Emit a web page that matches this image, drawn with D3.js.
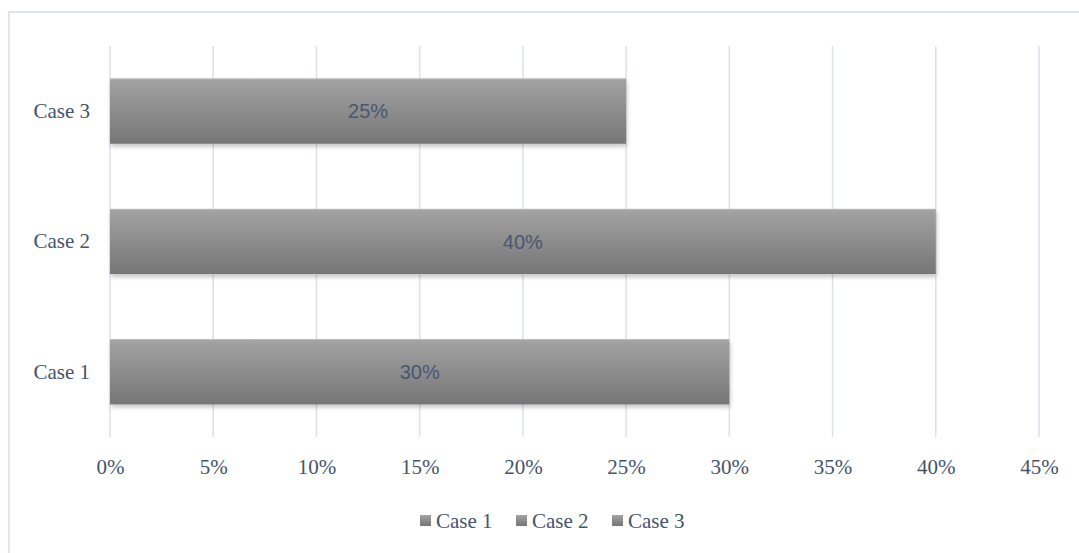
<!DOCTYPE html>
<html><head><meta charset="utf-8">
<script src="https://cdn.jsdelivr.net/npm/d3@7"></script>
<style>body{margin:0;background:#fff;} svg{display:block;}</style>
</head><body>
<svg id="c" width="1079" height="553"></svg>
<script>
const categories = ["Case 1", "Case 2", "Case 3"];
const values = [0.30, 0.40, 0.25];
const tickValues = [0, 0.05, 0.10, 0.15, 0.20, 0.25, 0.30, 0.35, 0.40, 0.45];
const legendLabels = ["Case 1", "Case 2", "Case 3"];

const svg = d3.select("#c");
const W = 1079, H = 553;
const m = {left: 110, right: 1079 - 1039, top: 46, bottom: 553 - 437};
const textColor = "#44546a";
const serif = "'Liberation Serif','Times New Roman',serif";

const defs = svg.append("defs");
const grad = defs.append("linearGradient").attr("id", "barGrad").attr("x1", 0).attr("y1", 0).attr("x2", 0).attr("y2", 1);
grad.append("stop").attr("offset", "0%").attr("stop-color", "#a3a3a3");
grad.append("stop").attr("offset", "100%").attr("stop-color", "#767676");
const f = defs.append("filter").attr("id", "shadow").attr("x", "-5%").attr("y", "-20%").attr("width", "110%").attr("height", "150%");
f.append("feDropShadow").attr("dx", 1).attr("dy", 3).attr("stdDeviation", 2).attr("flood-color", "#000").attr("flood-opacity", 0.22);

// frame
svg.append("rect").attr("x", 9).attr("y", 12).attr("width", W).attr("height", H)
  .attr("fill", "none").attr("stroke", "#dfe3eb").attr("stroke-width", 2);

const x = d3.scaleLinear().domain([0, 0.45]).range([m.left, W - m.right]);
const y = d3.scaleBand().domain(categories.slice().reverse()).range([m.top, H - m.bottom]).paddingInner(0.5).paddingOuter(0.25);

// gridlines
svg.append("g").selectAll("line").data(tickValues).join("line")
  .attr("x1", d => x(d)).attr("x2", d => x(d))
  .attr("y1", m.top).attr("y2", H - m.bottom)
  .attr("stroke", "#dde1ea").attr("stroke-width", 1.5);

// x axis labels
const xAxis = d3.axisBottom(x).tickValues(tickValues).tickFormat(d3.format(".0%")).tickSize(0).tickPadding(0);
const gx = svg.append("g").attr("transform", `translate(0,${H - m.bottom})`).call(xAxis);
gx.select(".domain").remove();
gx.selectAll("text").attr("font-family", serif).attr("font-size", 21).attr("fill", textColor)
  .attr("dy", null).attr("y", 37);

// y axis labels
const yAxis = d3.axisLeft(y).tickSize(0).tickPadding(20);
const gy = svg.append("g").attr("transform", `translate(${m.left},0)`).call(yAxis);
gy.select(".domain").remove();
gy.selectAll("text").attr("font-family", serif).attr("font-size", 21).attr("fill", textColor);

// bars
svg.append("g").selectAll("rect").data(categories).join("rect")
  .attr("x", x(0)).attr("y", (d) => y(d))
  .attr("width", (d, i) => x(values[i]) - x(0))
  .attr("height", y.bandwidth())
  .attr("fill", "url(#barGrad)").attr("filter", "url(#shadow)");
svg.append("g").selectAll("line").data(categories).join("line")
  .attr("x1", x(0)).attr("x2", (d, i) => x(values[i]))
  .attr("y1", d => y(d) + 0.5).attr("y2", d => y(d) + 0.5)
  .attr("stroke", "#b8b8b8").attr("stroke-width", 1);

// value labels
svg.append("g").selectAll("text").data(categories).join("text")
  .attr("x", (d, i) => (x(0) + x(values[i])) / 2)
  .attr("y", d => y(d) + y.bandwidth() / 2)
  .attr("dy", "0.35em").attr("text-anchor", "middle")
  .attr("font-family", "'Liberation Sans',Arial,sans-serif").attr("font-size", 20)
  .attr("fill", "#4a5672")
  .text((d, i) => d3.format(".0%")(values[i]));

// legend
const legX = [420, 516, 612];
const lg = svg.append("g").selectAll("g").data(legendLabels).join("g")
  .attr("transform", (d, i) => `translate(${legX[i]},521)`);
lg.append("rect").attr("x", 0).attr("y", -6).attr("width", 11).attr("height", 11).attr("fill", "url(#barGrad)");
lg.append("text").attr("x", 16).attr("y", 0).attr("dy", "0.35em")
  .attr("font-family", serif).attr("font-size", 21).attr("fill", textColor).text(d => d);
</script>
</body></html>
